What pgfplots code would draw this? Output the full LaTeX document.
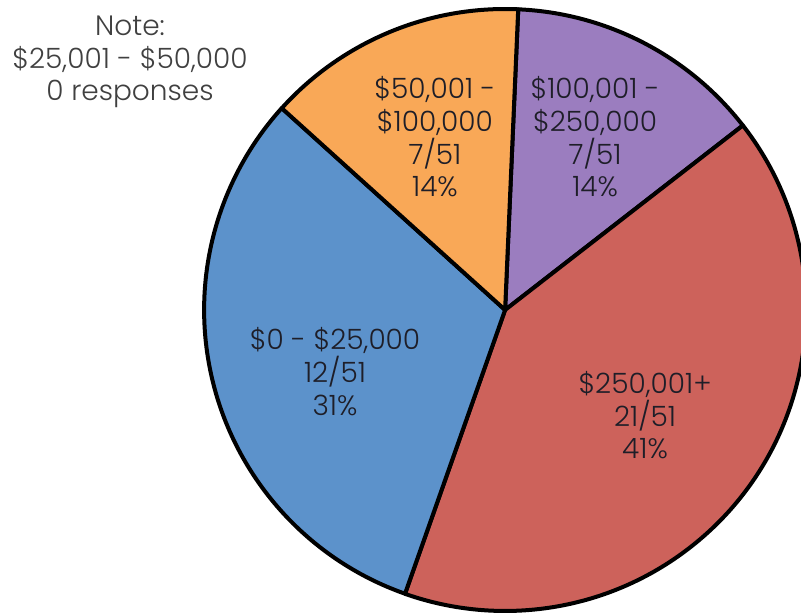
\documentclass[border=0pt]{standalone}
\usepackage{pgfplots}
\pgfplotsset{compat=1.18}
\usepackage{pgfplotstable}
\usepackage{fontspec}
\setmainfont{Poppins}[UprightFont={* Light}]

\definecolor{piepurple}{HTML}{9B7DBF}
\definecolor{piered}{HTML}{CD625B}
\definecolor{pieblue}{HTML}{5C92CB}
\definecolor{pieorange}{HTML}{F9A857}
\definecolor{labeltext}{HTML}{1E1E28}
\definecolor{notetext}{HTML}{404040}

% share of the circle, clockwise from the top divider
\pgfplotstableread{
name value
purple 13.8
red 40.9
blue 31.3
orange 14.0
}\piedata

\pgfplotstablegetelem{0}{value}\of\piedata \let\vA\pgfplotsretval
\pgfplotstablegetelem{1}{value}\of\piedata \let\vB\pgfplotsretval
\pgfplotstablegetelem{2}{value}\of\piedata \let\vC\pgfplotsretval
\pgfplotstablegetelem{3}{value}\of\piedata \let\vD\pgfplotsretval

\pgfmathsetmacro\aS{87.5}
\pgfmathsetmacro\aA{\aS-3.6*\vA}
\pgfmathsetmacro\aB{\aA-3.6*\vB}
\pgfmathsetmacro\aC{\aB-3.6*\vC}
\pgfmathsetmacro\aD{\aC-3.6*\vD}

\newcommand\slice[3]{%
  \filldraw[fill=#3, draw=black, line width=2pt, line join=round]
    (axis cs:0,0) -- (axis cs:{cos(#1)},{sin(#1)})
    arc[start angle=#1, end angle=#2, radius=150.5pt] -- cycle;}

\begin{document}
\begin{tikzpicture}
\begin{axis}[
  scale only axis,
  width=400.5pt, height=306.5pt,
  xmin=-1.678, xmax=0.983,
  ymin=-1.007, ymax=1.030,
  hide axis,
]
\slice{\aS}{\aA}{piepurple}
\slice{\aA}{\aB}{piered}
\slice{\aB}{\aC}{pieblue}
\slice{\aC}{\aD}{pieorange}

\begin{scope}[every node/.style={align=center, font=\fontsize{14}{16.3}\selectfont}]
\node[text=notetext] at (axis cs:-1.246,0.824) {Note:\\\$25,001 - \$50,000\\0 responses};
\node[text=labeltext] at (axis cs:-0.233,0.575) {\$50,001 -\\\$100,000\\7/51\\14\%};
\node[text=labeltext] at (axis cs:0.299,0.575) {\$100,001 -\\\$250,000\\7/51\\14\%};
\node[text=labeltext] at (axis cs:-0.565,-0.205) {\$0 - \$25,000\\12/51\\31\%};
\node[text=labeltext] at (axis cs:0.465,-0.35) {\$250,001+\\21/51\\41\%};
\end{scope}
\end{axis}
\pgfresetboundingbox
\useasboundingbox (current axis.south west) rectangle (current axis.north east);
\end{tikzpicture}
\end{document}
